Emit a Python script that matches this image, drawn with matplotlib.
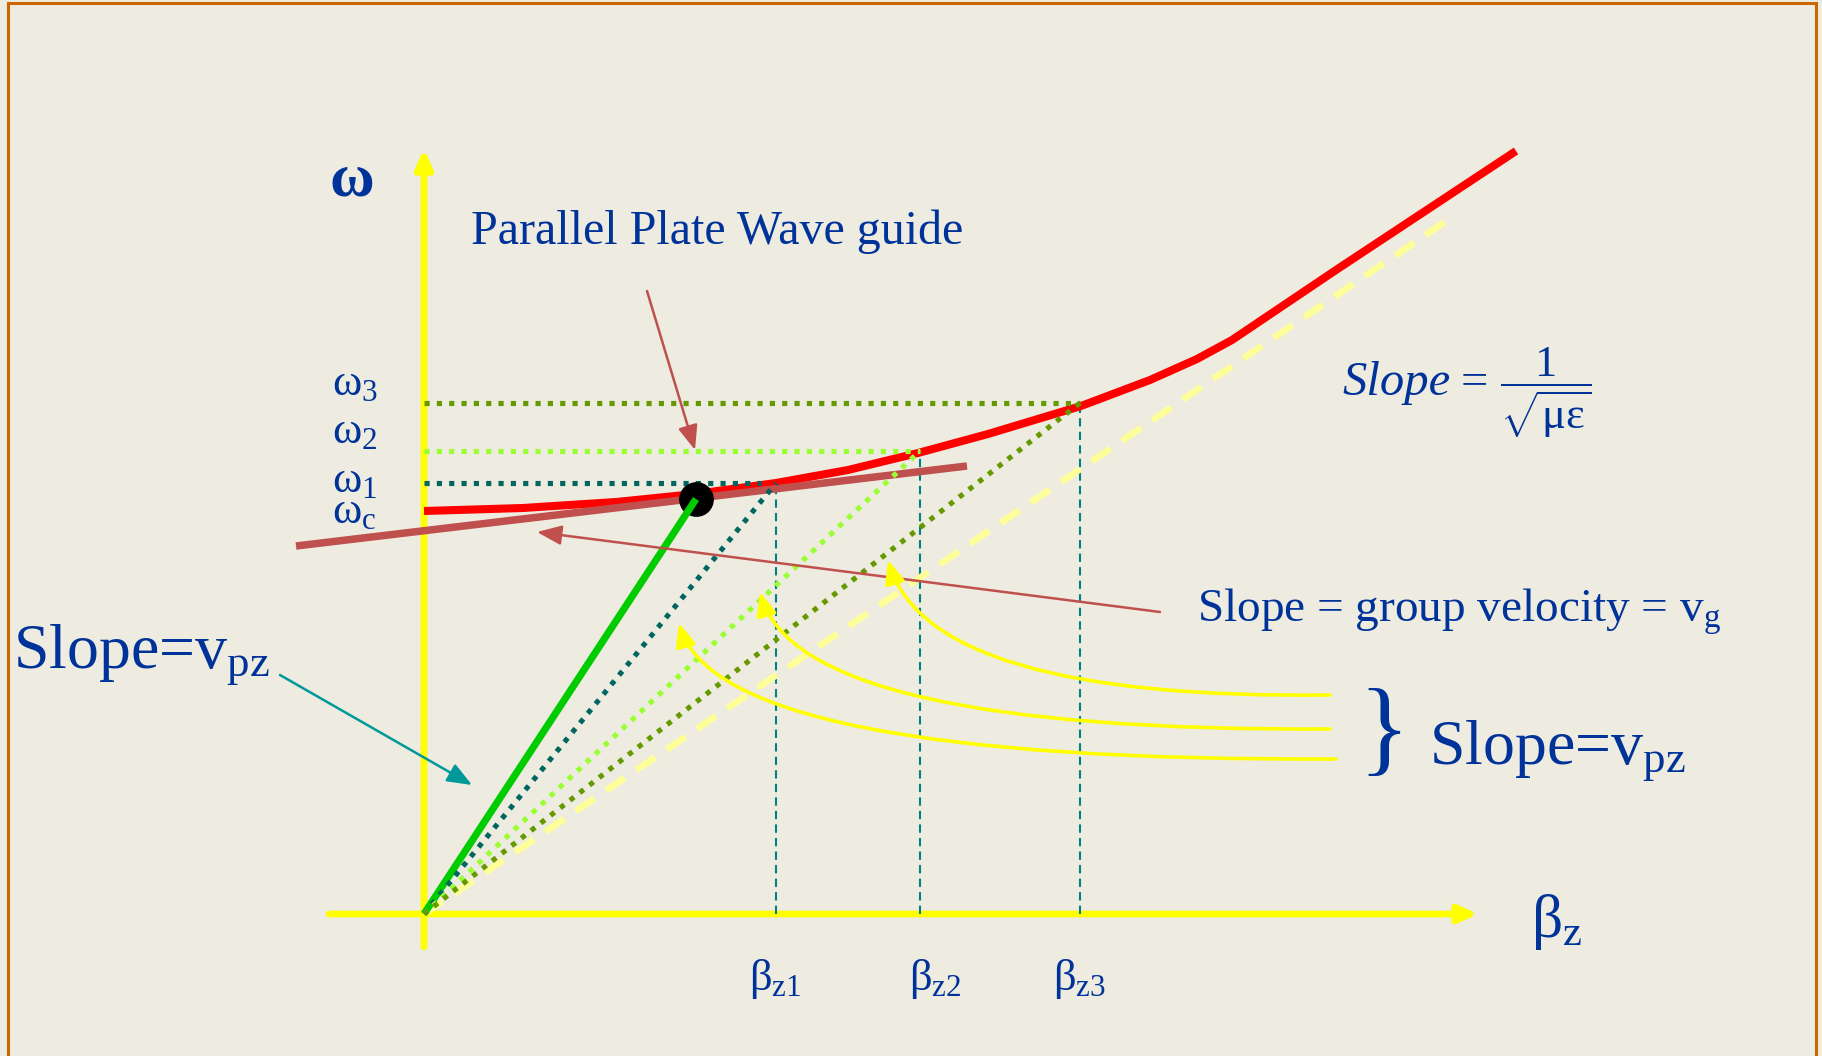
import matplotlib
matplotlib.use("Agg")
import matplotlib.pyplot as plt
from matplotlib.patches import FancyArrowPatch, Rectangle, ArrowStyle
from matplotlib.path import Path

plt.rcParams["font.family"] = ["Liberation Serif", "DejaVu Serif"]
plt.rcParams["mathtext.fontset"] = "custom"
plt.rcParams["mathtext.rm"] = "Liberation Serif"
plt.rcParams["mathtext.it"] = "Liberation Serif:italic"
plt.rcParams["mathtext.bf"] = "Liberation Serif:bold"

# ---- dispersion curve of the parallel-plate guide (beta_z, omega) ----
curve_beta = [0.0, 0.99, 1.92, 2.71, 3.52, 4.24, 4.94, 5.64, 6.57, 7.26, 7.73, 8.08, 9.12, 10.92]
curve_omega = [4.03, 4.06, 4.12, 4.20, 4.31, 4.44, 4.61, 4.80, 5.08, 5.34, 5.55, 5.74, 6.44, 7.63]

# operating points
beta_levels = [3.52, 4.96, 6.56]
omega_levels = [4.31, 4.63, 5.11]
omega_labels = [r"$\mathrm{ω}_{1}$", r"$\mathrm{ω}_{2}$", r"$\mathrm{ω}_{3}$"]
beta_labels = [r"$\mathrm{β}_\mathrm{z1}$", r"$\mathrm{β}_\mathrm{z2}$", r"$\mathrm{β}_\mathrm{z3}$"]
level_colors = ["#00665f", "#99ff33", "#669900"]

# tangent point and tangent (group velocity) line
tangent_point = (2.72, 4.15)
tangent_beta = [-1.28, 5.43]
tangent_omega = [3.68, 4.48]

# light line (omega = beta / sqrt(mu eps))
light_beta = [0.0, 10.28]
light_omega = [0.0, 6.97]

BG = "#eeebe0"
BLUE = "#003399"
YELLOW = "#ffff00"

fig = plt.figure(figsize=(18.22, 10.56), dpi=100, facecolor=BG)
ax = fig.add_axes([0, 0, 1, 1])
ax.set_facecolor(BG)
ax.set_xlim(-4.24, 13.98)
ax.set_ylim(-1.42, 9.14)
ax.axis("off")

# frame
fig.patches.append(Rectangle((8 / 1822, -0.02), 1808 / 1822, 1.02 - 3 / 1056,
                             transform=fig.transFigure, fill=False,
                             edgecolor="#cc6600", lw=2.2, zorder=0))


def arrow(p0, p1, color, lw, hl, hw, z=3):
    a = FancyArrowPatch(p0, p1, arrowstyle=ArrowStyle("-|>", head_length=hl, head_width=hw),
                        mutation_scale=1, color=color, lw=lw, shrinkA=0, shrinkB=0, zorder=z)
    ax.add_patch(a)


# coordinate axes
arrow((-0.95, 0.0), (10.54, 0.0), YELLOW, 4.8, 11, 5, z=1)
arrow((0.0, -0.33), (0.0, 7.65), YELLOW, 4.8, 11, 5, z=1)

# vertical guides at beta_z1..3
for b, w in zip(beta_levels, omega_levels):
    ax.plot([b, b], [0, w], color="#008080", lw=1.5, ls=(0, (4, 2.5)), zorder=2)

# light line
ax.plot(light_beta, light_omega, color="#ffff99", lw=4.8, ls=(0, (3.4, 2.1)),
        solid_capstyle="butt", dash_capstyle="butt", zorder=2)

# dispersion curve
ax.plot(curve_beta, curve_omega, color="#ff0000", lw=5.8, solid_joinstyle="round",
        solid_capstyle="butt", zorder=3)

# tangent line
ax.plot(tangent_beta, tangent_omega, color="#c0504d", lw=5.4, solid_capstyle="butt", zorder=4)

# horizontal dotted levels
for b, w, c in zip(beta_levels, omega_levels, level_colors):
    ax.plot([0, b - 0.15 if c == "#00665f" else b], [w, w], color=c, lw=3.7,
            ls=(0, (1, 1.4)), dash_capstyle="butt", zorder=5)

# point on the curve and phase-velocity line through it
ax.plot([tangent_point[0]], [tangent_point[1]], "o", color="black", ms=24, zorder=6)
ax.plot([0, tangent_point[0]], [0, tangent_point[1]], color="#00cc00", lw=5.2,
        solid_capstyle="butt", zorder=7)

# dotted phase-velocity lines
for b, w, c in zip(beta_levels, omega_levels, level_colors):
    ax.plot([0, b], [0, w], color=c, lw=3.7, ls=(0, (1, 1.4)), dash_capstyle="butt", zorder=8)

# pointer arrows
arrow((2.23, 6.23), (2.71, 4.64), "#c0504d", 1.8, 15, 6, z=9)
arrow((7.36, 3.02), (1.13, 3.82), "#c0504d", 1.8, 15, 6, z=9)
arrow((-1.44, 2.39), (0.48, 1.29), "#009999", 1.8, 15, 6, z=9)

# curved yellow pointers
curves = [
    ((9.06, 2.19), (5.06, 2.14), (4.64, 3.54)),
    ((9.06, 1.85), (3.76, 1.82), (3.36, 3.22)),
    ((9.12, 1.55), (2.96, 1.52), (2.55, 2.91)),
]
for tail, ctrl, tip in curves:
    p = Path([tail, ctrl, tip], [Path.MOVETO, Path.CURVE3, Path.CURVE3])
    ax.add_patch(FancyArrowPatch(path=p, arrowstyle=ArrowStyle("-|>", head_length=14, head_width=6),
                                 mutation_scale=1, color=YELLOW, lw=2.6, zorder=9))

# text
ax.text(-0.94, 7.19, "ω", color=BLUE, fontsize=44, fontweight="bold", ha="left", va="baseline")
ax.text(0.47, 6.70, "Parallel Plate Wave guide", color=BLUE, fontsize=34.6, ha="left", va="baseline")

for lab, y in zip(omega_labels, [4.22, 4.71, 5.19]):
    ax.text(-0.92, y, lab, color=BLUE, fontsize=32, ha="left", va="baseline")
ax.text(-0.92, 3.91, r"$\mathrm{ω}_\mathrm{c}$", color=BLUE, fontsize=32, ha="left", va="baseline")

for lab, x in zip(beta_labels, [3.25, 4.85, 6.29]):
    ax.text(x, -0.76, lab, color=BLUE, fontsize=32, ha="left", va="baseline")
ax.text(11.07, -0.23, r"$\mathrm{β}_\mathrm{z}$", color=BLUE, fontsize=44, ha="left", va="baseline")

# light-line slope formula
ax.text(9.18, 5.19, "Slope", color=BLUE, fontsize=35, fontstyle="italic", ha="left", va="baseline")
ax.text(10.37, 5.19, "=", color=BLUE, fontsize=35, ha="left", va="baseline")
ax.text(10.76, 5.215, r"$\dfrac{1}{\sqrt{\mathrm{με}}}$", color=BLUE, fontsize=32,
        ha="left", va="center")

ax.text(7.73, 2.92, r"Slope = group velocity = $\mathrm{v}_\mathrm{g}$", color=BLUE,
        fontsize=34, ha="left", va="baseline")
ax.text(-4.11, 2.47, r"Slope=$\mathrm{v}_\mathrm{pz}$", color=BLUE, fontsize=46,
        ha="left", va="baseline")
ax.text(9.60, 1.77, "}", color=BLUE, fontsize=76, ha="center", va="center")
ax.text(10.05, 1.51, r"Slope=$\mathrm{v}_\mathrm{pz}$", color=BLUE, fontsize=46,
        ha="left", va="baseline")

fig.savefig("out.png", dpi=100, facecolor=BG)
